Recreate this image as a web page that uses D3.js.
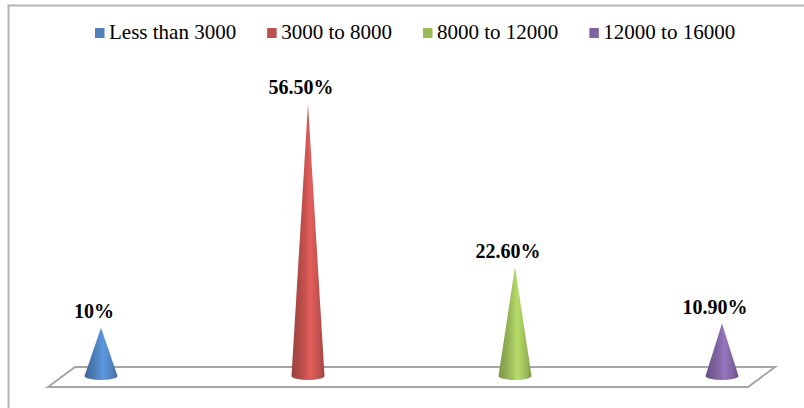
<!DOCTYPE html>
<html>
<head>
<meta charset="utf-8">
<script src="https://cdn.jsdelivr.net/npm/d3@7"></script>
<style>
  html, body { margin: 0; padding: 0; background: #fff; }
  svg { display: block; }
</style>
</head>
<body>
<svg id="chart" width="804" height="408"></svg>
<script>
// Income bands and share of respondents (%)
const categories = ["Less than 3000", "3000 to 8000", "8000 to 12000", "12000 to 16000"];
const values = [10, 56.5, 22.6, 10.9];
const valueLabels = ["10%", "56.50%", "22.60%", "10.90%"];
const colors = ["#4F81BD", "#C0504D", "#9BBB59", "#8064A2"];

const svg = d3.select("#chart");
const W = 804, H = 408;
const serif = "'Liberation Serif', 'Times New Roman', Times, serif";

// chart frame (runs off the right and bottom edges)
svg.append("path")
  .attr("d", `M8.5,${H + 2} L8.5,5.5 L${W + 2},5.5`)
  .attr("fill", "none")
  .attr("stroke", "#b4b4b4")
  .attr("stroke-width", 2);

const x = d3.scalePoint().domain(categories).range([101, 722]);
const y = d3.scaleLinear().domain([0, 60]).range([376, 86.8]);

// floor plane
const floorFront = 387, floorBack = 367;
svg.append("path")
  .attr("d", `M48,${floorFront} L75,${floorBack} L775,${floorBack} L748,${floorFront} Z`)
  .attr("fill", "#fff")
  .attr("stroke", "#a6a6a6")
  .attr("stroke-width", 2)
  .attr("stroke-linejoin", "miter");

// horizontal shading gradients for the cones
const defs = svg.append("defs");
colors.forEach((c, i) => {
  const base = d3.color(c);
  const g = defs.append("linearGradient")
    .attr("id", "cone" + i)
    .attr("x1", "0%").attr("x2", "100%").attr("y1", "0%").attr("y2", "0%");
  g.append("stop").attr("offset", "0%").attr("stop-color", base.darker(0.6));
  g.append("stop").attr("offset", "30%").attr("stop-color", base.darker(0.1));
  g.append("stop").attr("offset", "58%").attr("stop-color", base.brighter(0.45));
  g.append("stop").attr("offset", "85%").attr("stop-color", base.darker(0.05));
  g.append("stop").attr("offset", "100%").attr("stop-color", base.darker(0.55));
});

const rx = 16.5, ry = 4;
svg.append("g").selectAll("path")
  .data(values)
  .join("path")
  .attr("d", (d, i) => {
    const cx = x(categories[i]);
    const top = y(d), b = y(0);
    return `M${cx},${top} L${cx - rx},${b} A${rx},${ry} 0 0 0 ${cx + rx},${b} Z`;
  })
  .attr("fill", (d, i) => `url(#cone${i})`);

// value labels above each cone
svg.append("g").selectAll("text")
  .data(values)
  .join("text")
  .attr("x", (d, i) => x(categories[i]) - 7)
  .attr("y", d => y(d) - 9.5)
  .attr("text-anchor", "middle")
  .style("font-family", serif)
  .attr("font-weight", "bold")
  .attr("font-size", 20)
  .attr("fill", "#000")
  .text((d, i) => valueLabels[i]);

// legend
const legend = svg.append("g");
let lx = 95;
categories.forEach((c, i) => {
  legend.append("rect")
    .attr("x", lx).attr("y", 28)
    .attr("width", 9.5).attr("height", 10)
    .attr("fill", colors[i]);
  const t = legend.append("text")
    .attr("x", lx + 14)
    .attr("y", 39)
    .style("font-family", serif)
    .attr("font-size", 21)
    .attr("fill", "#000")
    .text(c);
  lx += 14 + t.node().getComputedTextLength() + 31;
});
</script>
</body>
</html>
